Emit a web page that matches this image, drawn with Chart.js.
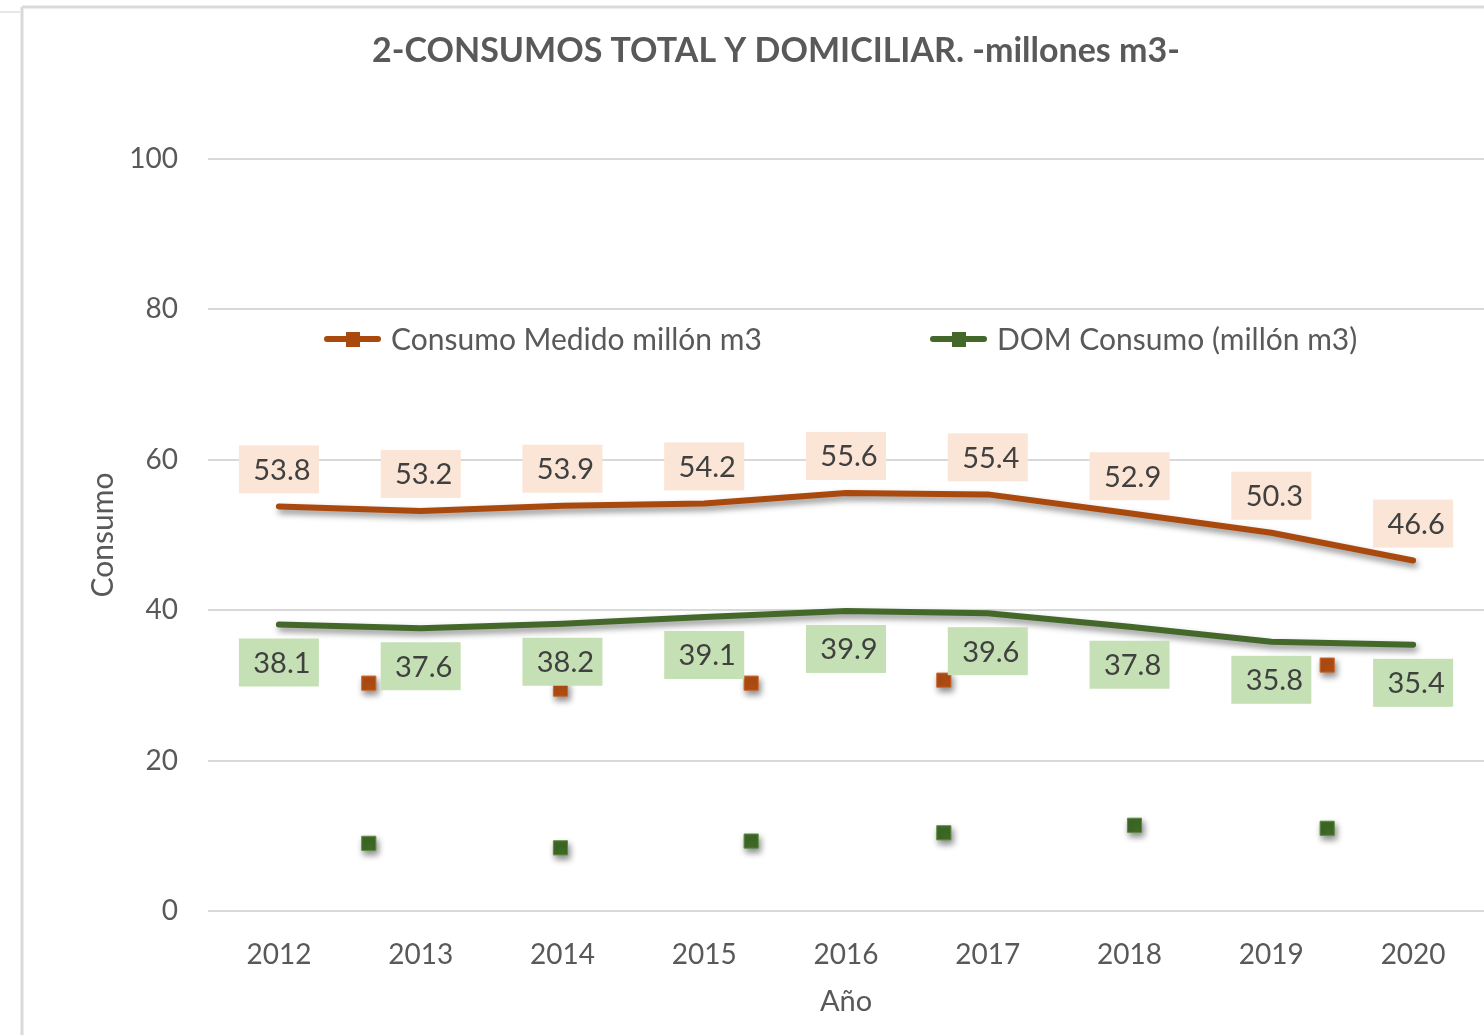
<!DOCTYPE html>
<html>
<head>
<meta charset="utf-8">
<title>Consumos total y domiciliar</title>
<script src="https://cdn.jsdelivr.net/npm/chart.js@4.4.1/dist/chart.umd.min.js"></script>
<style>
    html, body { margin: 0; padding: 0; background: #ffffff; overflow: hidden; }
    #chart { display: block; }
</style>
</head>
<body>
<canvas id="chart" width="1484" height="1035"></canvas>
<script>
// years on the category axis
const years = ['2012', '2013', '2014', '2015', '2016', '2017', '2018', '2019', '2020'];
// Consumo Medido millón m3
const medido = [53.8, 53.2, 53.9, 54.2, 55.6, 55.4, 52.9, 50.3, 46.6];
// DOM Consumo (millón m3)
const domiciliar = [38.1, 37.6, 38.2, 39.1, 39.9, 39.6, 37.8, 35.8, 35.4];
// stray markers that show up between the years in the original
const strayX = [0.634, 1.986, 3.331, 4.690, 6.035, 7.394];
const strayMedido = [30.3, 29.5, 30.3, 30.7, null, 32.7];
const strayDom = [9.0, 8.4, 9.3, 10.4, 11.4, 11.0];
const yTicks = [0, 20, 40, 60, 80, 100];

const chartTitle = '2-CONSUMOS TOTAL Y DOMICILIAR. -millones m3-';
const FONT = 'Lato, "Noto Sans", sans-serif';
const orange = '#A9490E';
const green = '#43682A';

document.addEventListener('DOMContentLoaded', function() {
    const canvas = document.getElementById('chart');

    function toPoints(xs, ys) {
        return xs.map((x, i) => ({ x: x, y: ys[i] }));
    }

    // white background, frame lines and the title
    const framePlugin = {
        id: 'frame',
        beforeDraw(chart) {
            const ctx = chart.ctx;
            ctx.save();
            ctx.fillStyle = '#ffffff';
            ctx.fillRect(0, 0, chart.width, chart.height);
            ctx.strokeStyle = '#d9d9d9';
            ctx.lineWidth = 3;
            ctx.beginPath();
            ctx.moveTo(22, 7);
            ctx.lineTo(22, chart.height);
            ctx.moveTo(22, 7);
            ctx.lineTo(chart.width, 7);
            ctx.stroke();
            ctx.strokeStyle = '#e6e6e6';
            ctx.lineWidth = 2;
            ctx.beginPath();
            ctx.moveTo(0, 12);
            ctx.lineTo(20, 12);
            ctx.stroke();

            ctx.fillStyle = '#595959';
            ctx.font = 'bold 34px ' + FONT;
            ctx.textAlign = 'center';
            ctx.textBaseline = 'middle';
            ctx.fillText(chartTitle, 776, 51);
            ctx.restore();
        }
    };

    // drop shadow under lines and markers
    const shadowPlugin = {
        id: 'shadow',
        beforeDatasetDraw(chart) {
            const ctx = chart.ctx;
            ctx.save();
            ctx.shadowColor = 'rgba(0, 0, 0, 0.45)';
            ctx.shadowBlur = 6;
            ctx.shadowOffsetX = 2;
            ctx.shadowOffsetY = 4;
        },
        afterDatasetDraw(chart) {
            chart.ctx.restore();
        }
    };

    // boxed value labels, above for the orange line and below for the green one
    const labelPlugin = {
        id: 'valueLabels',
        afterDatasetsDraw(chart) {
            const ctx = chart.ctx;
            const setups = [
                { index: 0, fill: '#FBE5D6', shift: -37 },
                { index: 1, fill: '#C5E0B4', shift: 38 }
            ];
            ctx.save();
            ctx.font = '29px ' + FONT;
            ctx.textAlign = 'center';
            ctx.textBaseline = 'middle';
            setups.forEach(s => {
                const meta = chart.getDatasetMeta(s.index);
                const values = chart.data.datasets[s.index].data;
                meta.data.forEach((pt, i) => {
                    const cx = pt.x;
                    const cy = pt.y + s.shift;
                    ctx.fillStyle = s.fill;
                    ctx.fillRect(cx - 40, cy - 24, 80, 48);
                    ctx.fillStyle = '#404040';
                    ctx.fillText(values[i].toFixed(1), cx + 3, cy + 1);
                });
            });
            ctx.restore();
        }
    };

    // legend drawn inside the plot, like the spreadsheet did
    const legendPlugin = {
        id: 'insideLegend',
        afterDraw(chart) {
            const ctx = chart.ctx;
            const area = chart.chartArea;
            const starts = [area.left + 116, area.left + 722];
            const y = 339;
            ctx.save();
            ctx.font = '30px ' + FONT;
            ctx.textBaseline = 'middle';
            ctx.textAlign = 'left';
            [0, 1].forEach((di, k) => {
                const ds = chart.data.datasets[di];
                const x = starts[k];
                ctx.strokeStyle = ds.borderColor;
                ctx.lineWidth = 6;
                ctx.lineCap = 'round';
                ctx.beginPath();
                ctx.moveTo(x + 3, y);
                ctx.lineTo(x + 54, y);
                ctx.stroke();
                ctx.fillStyle = ds.borderColor;
                ctx.fillRect(x + 22, y - 7, 14, 15);
                ctx.fillStyle = '#595959';
                ctx.fillText(ds.label, x + 67, y + 1);
            });
            ctx.restore();
        }
    };

    new Chart(canvas, {
        type: 'line',
        data: {
            labels: years,
            datasets: [{
                label: 'Consumo Medido millón m3',
                data: medido,
                borderColor: orange,
                backgroundColor: orange,
                borderWidth: 6,
                borderCapStyle: 'round',
                borderJoinStyle: 'round',
                pointRadius: 0,
                tension: 0
            }, {
                label: 'DOM Consumo (millón m3)',
                data: domiciliar,
                borderColor: green,
                backgroundColor: green,
                borderWidth: 6,
                borderCapStyle: 'round',
                borderJoinStyle: 'round',
                pointRadius: 0,
                tension: 0
            }, {
                label: 'medido puntos',
                data: toPoints(strayX, strayMedido),
                xAxisID: 'x2',
                showLine: false,
                pointStyle: 'rect',
                pointRadius: 10,
                pointBackgroundColor: '#B24E12',
                pointBorderColor: '#C9682E',
                pointBorderWidth: 1
            }, {
                label: 'dom puntos',
                data: toPoints(strayX, strayDom),
                xAxisID: 'x2',
                showLine: false,
                pointStyle: 'rect',
                pointRadius: 10,
                pointBackgroundColor: '#3F6B26',
                pointBorderColor: '#5E8A42',
                pointBorderWidth: 1
            }]
        },
        options: {
            responsive: false,
            animation: false,
            devicePixelRatio: 1,
            layout: {
                autoPadding: false,
                padding: { left: 22, top: 159, right: 0, bottom: 0 }
            },
            plugins: {
                legend: { display: false },
                title: { display: false },
                tooltip: { enabled: false }
            },
            scales: {
                x: {
                    type: 'category',
                    offset: true,
                    grid: { display: false, drawTicks: false },
                    border: { display: false },
                    ticks: {
                        color: '#595959',
                        font: { family: FONT, size: 28 },
                        padding: 27,
                        maxRotation: 0
                    },
                    title: {
                        display: true,
                        text: 'Año',
                        color: '#595959',
                        font: { family: FONT, size: 29 },
                        padding: { top: 0, bottom: 16 }
                    },
                    afterFit: function(scale) {
                        scale.height = 124;
                        // last label should not push the plot in from the right edge
                        scale.paddingLeft = 0;
                        scale.paddingRight = 0;
                    }
                },
                x2: {
                    type: 'linear',
                    display: false,
                    min: -0.5,
                    max: years.length - 0.5
                },
                y: {
                    min: 0,
                    max: 100,
                    grid: { color: '#d9d9d9', lineWidth: 2, drawTicks: false },
                    border: { display: false },
                    afterBuildTicks: function(scale) {
                        scale.ticks = yTicks.map(v => ({ value: v }));
                    },
                    ticks: {
                        color: '#595959',
                        font: { family: FONT, size: 28 },
                        padding: 30
                    },
                    title: {
                        display: true,
                        text: 'Consumo',
                        color: '#595959',
                        font: { family: FONT, size: 30 },
                        padding: { top: 63, bottom: 0 }
                    },
                    afterFit: function(scale) {
                        scale.width = 186;
                    }
                }
            }
        },
        plugins: [framePlugin, shadowPlugin, labelPlugin, legendPlugin]
    });
});
</script>
</body>
</html>
